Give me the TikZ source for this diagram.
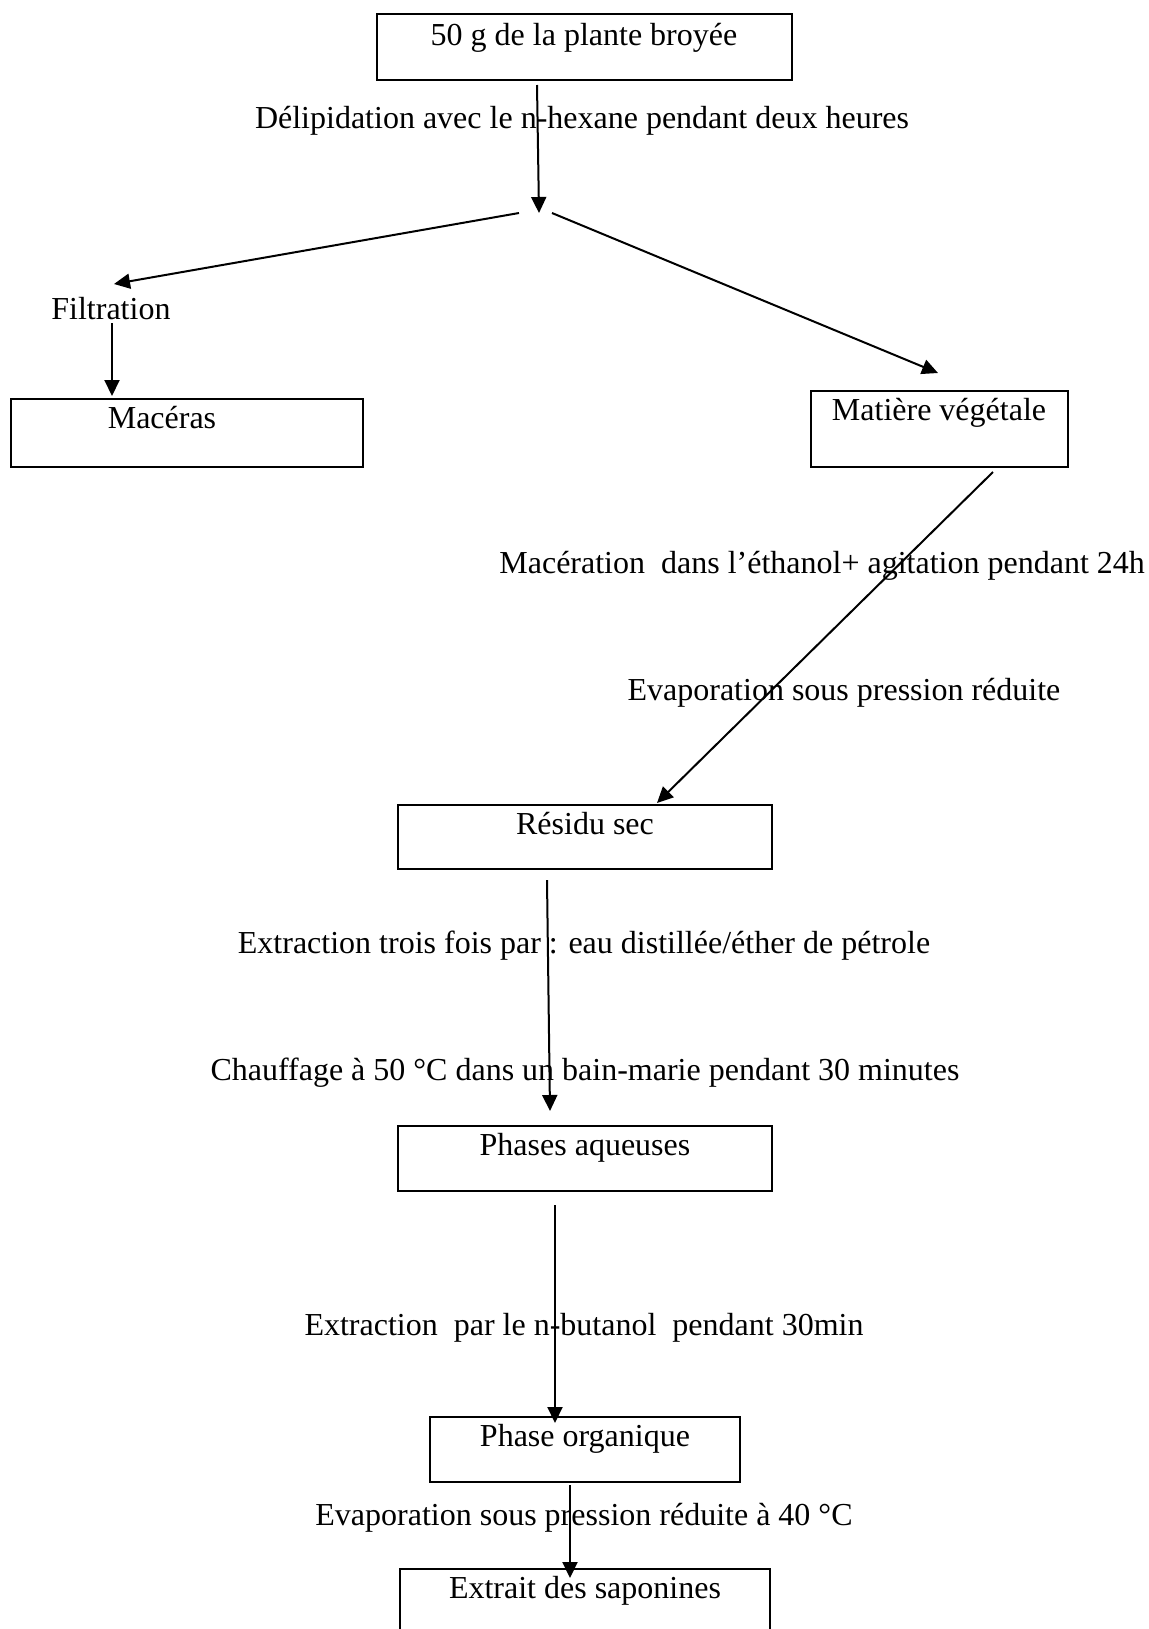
\documentclass[tikz,border=0pt]{standalone}
\usepackage{fontspec}
\setmainfont{Liberation Serif}
\usetikzlibrary{arrows.meta}
\begin{document}
\begin{tikzpicture}[x=0.5pt,y=-0.5pt,
  box/.style={draw, line width=1pt, rectangle, inner sep=0pt},
  txt/.style={inner sep=0pt, anchor=base, font=\fontsize{16}{19}\selectfont},
  txtl/.style={txt, anchor=base west},
  arr/.style={line width=1pt, -{Triangle[length=8pt,width=7.5pt]}}]
\clip (0,0) rectangle (1149,1629);
\fill[white] (0,0) rectangle (1149,1629);

% boxes
\node[box, minimum width=207.5pt, minimum height=33pt] (b1) at (584.5,47) {};
\node[box, minimum width=176pt, minimum height=34pt] (bmac) at (187,433) {};
\node[box, minimum width=128.5pt, minimum height=38pt] (bmat) at (939.5,429) {};
\node[box, minimum width=187pt, minimum height=32pt] (bres) at (585,837) {};
\node[box, minimum width=187pt, minimum height=32.5pt] (bphq) at (585,1158.5) {};
\node[box, minimum width=155pt, minimum height=32.5pt] (bpho) at (585,1449.5) {};
\node[box, minimum width=185pt, minimum height=35.5pt] (bext) at (585,1604.5) {};

% texts
\node[txt] (t1) at (584,45) {50 g de la plante broyée};
\node[txt] (tdel) at (582,128) {Délipidation avec le n-hexane pendant deux heures};
\node[txtl] (tfil) at (51,319) {Filtration};
\node[txt] (tmac) at (162,428) {Macéras};
\node[txt] (tmat) at (939,420) {Matière végétale};
\node[txtl] (tmacer) at (499,573) {Macération~ dans l’éthanol+ agitation pendant 24h};
\node[txt] (tevap) at (844,700) {Evaporation sous pression réduite};
\node[txt] (tres) at (585,834) {Résidu sec};
\node[txt] (textr) at (584,953) {Extraction trois fois par : eau distillée/éther de pétrole};
\node[txt] (tchauf) at (585,1080) {Chauffage à 50 °C dans un bain-marie pendant 30 minutes};
\node[txt] (tphq) at (585,1155) {Phases aqueuses};
\node[txt] (tbut) at (584,1335) {Extraction~ par le n-butanol~ pendant 30min};
\node[txt] (tpho) at (585,1446) {Phase organique};
\node[txt] (tev40) at (584,1525) {Evaporation sous pression réduite à 40 °C};
\node[txt] (text) at (585,1598) {Extrait des saponines};

% connector end points
\coordinate (a1s) at (537,85);
\coordinate (split) at (539,213);
\coordinate (lls) at (519,213);
\coordinate (lle) at (114,284);
\coordinate (rls) at (552,213);
\coordinate (rle) at (938,373);
\coordinate (fs) at (112,323);
\coordinate (fe) at (112,396);
\coordinate (ds) at (993,472);
\coordinate (de) at (657,803);
\coordinate (r1s) at (547,880);
\coordinate (r1e) at (550,1111);
\coordinate (q1s) at (555,1205);
\coordinate (q1e) at (555,1423);
\coordinate (o1s) at (570,1485);
\coordinate (o1e) at (570,1578);

% connectors
\draw[arr] (a1s) -- (split);
\draw[arr] (lls) -- (lle);
\draw[arr] (rls) -- (rle);
\draw[arr] (fs) -- (fe);
\draw[arr] (ds) -- (de);
\draw[arr] (r1s) -- (r1e);
\draw[arr] (q1s) -- (q1e);
\draw[arr] (o1s) -- (o1e);
\end{tikzpicture}
\end{document}
